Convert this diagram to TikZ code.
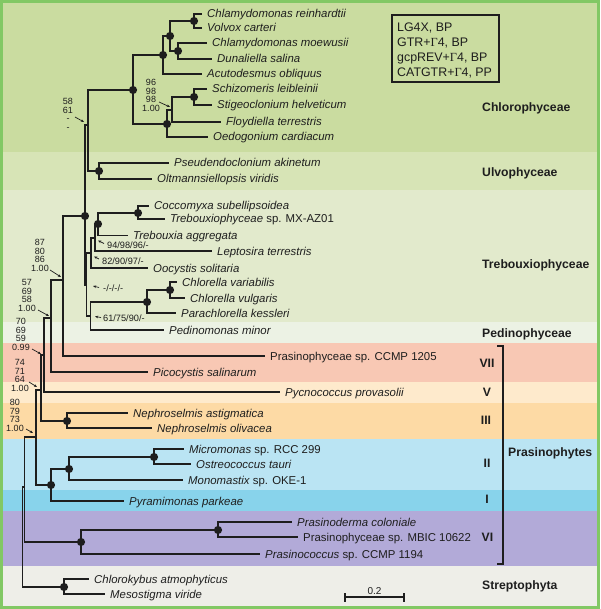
\documentclass[tikz,border=0pt]{standalone}
\usepackage{fontspec}
\setmainfont{Liberation Sans}
\newfontfamily\gfont{Liberation Serif}
\usetikzlibrary{arrows.meta}
\definecolor{cChl}{RGB}{202,220,160}
\definecolor{cUlv}{RGB}{215,228,182}
\definecolor{cTre}{RGB}{226,234,204}
\definecolor{cPed}{RGB}{236,242,228}
\definecolor{cVII}{RGB}{248,200,180}
\definecolor{cV}{RGB}{254,234,204}
\definecolor{cIII}{RGB}{253,218,165}
\definecolor{cII}{RGB}{186,228,243}
\definecolor{cI}{RGB}{136,211,235}
\definecolor{cVI}{RGB}{178,170,216}
\definecolor{cStr}{RGB}{238,238,232}
\definecolor{cFrame}{RGB}{130,200,100}
\definecolor{ink}{RGB}{30,30,30}
\tikzset{
  br/.style={line width=1.8pt, draw=ink},
  tax/.style={font=\fontsize{11.4}{13}\selectfont\itshape, anchor=base west, inner sep=0pt, text=ink},
  supp/.style={font=\fontsize{9}{8.4}\selectfont, align=center, anchor=north, inner sep=0pt, text=ink},
  inl/.style={font=\fontsize{9.2}{10}\selectfont, anchor=base west, inner sep=0pt, text=ink},
  sarr/.style={-{Stealth[length=3.2pt,width=2.6pt]}, line width=0.7pt, draw=ink},
  clade/.style={font=\fontsize{12.2}{14}\selectfont\bfseries, anchor=base west, inner sep=0pt, text=ink},
  roman/.style={font=\fontsize{12.2}{14}\selectfont\bfseries, anchor=base, inner sep=0pt, text=ink},
}
\newcommand{\taxon}[4]{\coordinate (#1) at (#2,#3); \node[tax] (#1L) at (#2+5,#3+4) {#4};}
\begin{document}
\begin{tikzpicture}[x=1pt,y=-1pt]
\useasboundingbox (0,0) rectangle (600,609);
% bands
\fill[cChl] (0,0) rectangle (600,152);
\fill[cUlv] (0,152) rectangle (600,190);
\fill[cTre] (0,190) rectangle (600,322);
\fill[cPed] (0,322) rectangle (600,343);
\fill[cVII] (0,343) rectangle (600,382);
\fill[cV] (0,382) rectangle (600,403);
\fill[cIII] (0,403) rectangle (600,439);
\fill[cII] (0,439) rectangle (600,490);
\fill[cI] (0,490) rectangle (600,511);
\fill[cVI] (0,511) rectangle (600,566);
\fill[cStr] (0,566) rectangle (600,609);
\draw[cFrame, line width=2.6pt] (1.3,1.3) rectangle (598.7,607.7);

% internal nodes
\coordinate (N1) at (194,21);
\coordinate (N2) at (178,51);
\coordinate (N3) at (170,36);
\coordinate (N4) at (163,55);
\coordinate (N5) at (194,97);
\coordinate (N6) at (172,110);
\coordinate (N7) at (167,124);
\coordinate (N8) at (133,90);
\coordinate (U) at (99,171);
\coordinate (N9) at (88,125);
\coordinate (T4) at (138,213);
\coordinate (T3) at (98,224);
\coordinate (T2) at (95,238);
\coordinate (T1) at (91,253);
\coordinate (CV) at (170,290);
\coordinate (PK) at (147,302);
\coordinate (CP) at (90.5,316);
\coordinate (B) at (86.5,285);
\coordinate (A) at (85,216);
\coordinate (P5) at (63,280);
\coordinate (P4) at (51,318);
\coordinate (P3) at (44,355);
\coordinate (P2) at (41,390);
\coordinate (P1) at (36,437);
\coordinate (NE) at (67,421);
\coordinate (MO) at (154,457);
\coordinate (II) at (69,469);
\coordinate (Q) at (51,485);
\coordinate (PM) at (218,530);
\coordinate (VI) at (81,542);
\coordinate (CH) at (24.5,487);
\coordinate (ST) at (64,587);
\coordinate (R) at (22.5,537);

% taxa
\taxon{e1}{202}{14}{Chlamydomonas reinhardtii}
\taxon{e2}{202}{28}{Volvox carteri}
\taxon{e3}{207}{43}{Chlamydomonas moewusii}
\taxon{e4}{212}{59}{Dunaliella salina}
\taxon{e5}{202}{74}{Acutodesmus obliquus}
\taxon{e6}{207}{89}{Schizomeris leibleinii}
\taxon{e7}{212}{105}{Stigeoclonium helveticum}
\taxon{e8}{221}{122}{Floydiella terrestris}
\taxon{e9}{208}{137}{Oedogonium cardiacum}
\taxon{e10}{169}{163}{Pseudendoclonium akinetum}
\taxon{e11}{152}{179}{Oltmannsiellopsis viridis}
\taxon{e12}{149}{206}{Coccomyxa subellipsoidea}
\taxon{e13}{165}{219}{Trebouxiophyceae \upshape sp. MX-AZ01}
\taxon{e14}{128}{235.5}{Trebouxia aggregata}
\taxon{e15}{212}{251}{Leptosira terrestris}
\taxon{e16}{148}{268}{Oocystis solitaria}
\taxon{e17}{177}{282}{Chlorella variabilis}
\taxon{e18}{185}{298}{Chlorella vulgaris}
\taxon{e19}{176}{313}{Parachlorella kessleri}
\taxon{e20}{164}{330}{Pedinomonas minor}
\taxon{e21}{265}{356}{\upshape Prasinophyceae sp. CCMP 1205}
\taxon{e22}{148}{372}{Picocystis salinarum}
\taxon{e23}{280}{392}{Pycnococcus provasolii}
\taxon{e24}{128}{413}{Nephroselmis astigmatica}
\taxon{e25}{152}{428}{Nephroselmis olivacea}
\taxon{e26}{184}{449}{Micromonas \upshape sp. RCC 299}
\taxon{e27}{191}{464}{Ostreococcus tauri}
\taxon{e28}{183}{480}{Monomastix \upshape sp. OKE-1}
\taxon{e29}{124}{501}{Pyramimonas parkeae}
\taxon{e30}{292}{522}{Prasinoderma coloniale}
\taxon{e31}{298}{537}{\upshape Prasinophyceae sp. MBIC 10622}
\taxon{e32}{260}{554}{Prasinococcus \upshape sp. CCMP 1194}
\taxon{e33}{89}{579}{Chlorokybus atmophyticus}
\taxon{e34}{105}{594}{Mesostigma viride}

% branches
\foreach \p/\c in {R/CH, R/ST, CH/P1, CH/VI, P1/P2, P1/Q, P2/P3, P2/NE,
  P3/P4, P3/e23, P4/P5, P4/e22, P5/A, P5/e21, A/N9, A/B, B/T1, B/CP,
  T1/T2, T1/e16, T2/T3, T2/e15, T3/T4, T3/e14, T4/e12, T4/e13,
  CP/PK, CP/e20, PK/CV, PK/e19, CV/e17, CV/e18, N9/N8, N9/U, U/e10, U/e11,
  N8/N4, N8/N7, N4/N3, N4/e5, N3/N1, N3/N2, N1/e1, N1/e2, N2/e3, N2/e4,
  N7/N6, N7/e9, N6/N5, N6/e8, N5/e6, N5/e7, NE/e24, NE/e25, Q/II, Q/e29,
  II/MO, II/e28, MO/e26, MO/e27, VI/PM, VI/e32, PM/e30, PM/e31, ST/e33, ST/e34}
  \draw[br] (\p) |- (\c);

% dots
\foreach \n in {N1,N2,N3,N4,N5,N7,N8,U,A,T4,T3,CV,PK,NE,MO,II,Q,PM,VI,ST}
  \fill[ink] (\n) circle (4.1);

% support stacks
\node[supp] (s1) at (68,98.5) {58\\61\\-\\-};
\node[supp] (s2) at (151,79.5) {96\\98\\98\\1.00};
\node[supp] (s3) at (40,239.5) {87\\80\\86\\1.00};
\node[supp] (s4) at (27,279.5) {57\\69\\58\\1.00};
\node[supp] (s5) at (21,318.5) {70\\69\\59\\0.99};
\node[supp] (s6) at (20,359.5) {74\\71\\64\\1.00};
\node[supp] (s7) at (15,399.5) {80\\79\\73\\1.00};
\draw[sarr] (75,117) -- (84,122);
\draw[sarr] (159,102) -- (170,107);
\draw[sarr] (50,270) -- (61,277);
\draw[sarr] (38,310) -- (49,316);
\draw[sarr] (32,349) -- (41,354);
\draw[sarr] (29,382) -- (37,387);
\draw[sarr] (26,429) -- (33,433);

% inline supports
\node[inl] (i1) at (107,248) {94/98/96/-};
\node[inl] (i2) at (102,264.2) {82/90/97/-};
\node[inl] (i3) at (103,291.2) {-/-/-/-};
\node[inl] (i4) at (103,321.2) {61/75/90/-};
\draw[sarr] (104,243.5) -- (98,240.5);
\draw[sarr] (99,259) -- (94,256.5);
\draw[sarr] (99,287.5) -- (93,286);
\draw[sarr] (101,317.5) -- (95,316.5);

% clade labels
\node[clade] (cl1) at (482,111.4) {Chlorophyceae};
\node[clade] (cl2) at (482,176.4) {Ulvophyceae};
\node[clade] (cl3) at (482,268.4) {Trebouxiophyceae};
\node[clade] (cl4) at (482,337.4) {Pedinophyceae};
\node[clade] (cl5) at (508,456.4) {Prasinophytes};
\node[clade] (cl6) at (482,589.4) {Streptophyta};
\node[roman] (r7) at (487,367.4) {VII};
\node[roman] (r5) at (487,396.4) {V};
\node[roman] (r3) at (486,424.4) {III};
\node[roman] (r2) at (487,467.4) {II};
\node[roman] (r1) at (487,503.4) {I};
\node[roman] (r6) at (487.5,541.4) {VI};

% bracket
\coordinate (bt) at (503,346);
\coordinate (bb) at (503,564);
\draw[br] ([xshift=-6pt]bt) -- (bt) -- (bb) -- ([xshift=-6pt]bb);

% legend
\node[draw=ink, line width=1.3pt, minimum width=107pt, minimum height=67pt, inner sep=0pt] (leg) at (445.5,48.5) {};
\node[font=\fontsize{12.4}{15}\selectfont, align=left, anchor=north west, inner sep=0pt, text=ink] (legt) at (397,22.6)
  {LG4X, BP\\GTR+{\gfont Γ}4, BP\\gcpREV+{\gfont Γ}4, BP\\CATGTR+{\gfont Γ}4, PP};

% scale bar
\coordinate (sb1) at (345,597);
\coordinate (sb2) at (404,597);
\draw[ink, line width=1.2pt] (sb1) -- (sb2);
\draw[ink, line width=1.2pt] ([yshift=-4.5pt]sb1) -- ([yshift=4.5pt]sb1);
\draw[ink, line width=1.2pt] ([yshift=-4.5pt]sb2) -- ([yshift=4.5pt]sb2);
\node[font=\fontsize{10}{12}\selectfont, anchor=base, inner sep=0pt, text=ink] (sbl) at (374.5,594) {0.2};
\end{tikzpicture}
\end{document}
